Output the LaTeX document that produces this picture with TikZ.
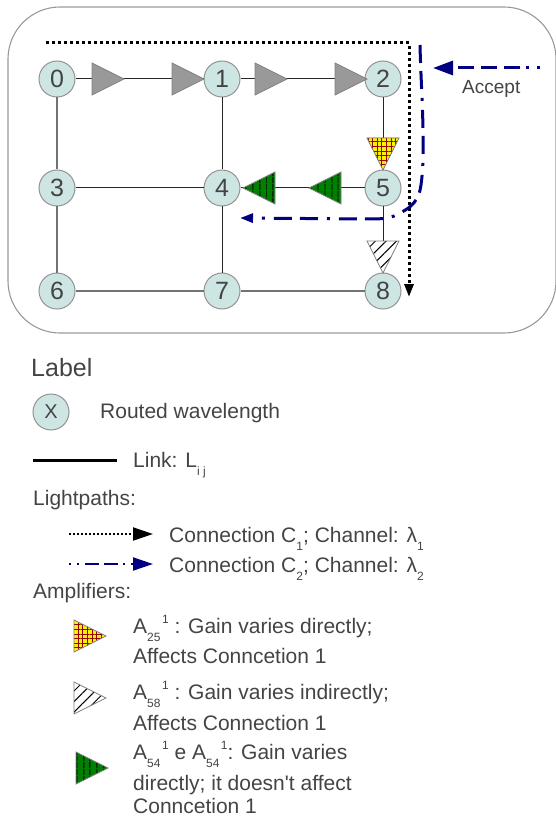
\documentclass[tikz,border=0pt]{standalone}
\usepackage{fontspec}
\setmainfont{Liberation Sans}
\newfontfamily\plainfont{Liberation Sans}
\usetikzlibrary{arrows.meta,patterns.meta,shapes.geometric,positioning}
\definecolor{wavefill}{HTML}{CEE6E3}
\definecolor{txtgray}{HTML}{444444}
\definecolor{pathblue}{HTML}{000080}
\newcommand{\subidx}[1]{\raisebox{-8pt}{\fontsize{12}{12}\selectfont #1}}
\newcommand{\supidx}[1]{\hspace{1.5pt}\raisebox{10pt}{\fontsize{12}{12}\selectfont #1}}

\begin{document}
\begin{tikzpicture}[x=1pt,y=-1pt]
\tikzstyle{wave} = [circle, draw=gray!85, line width=1pt, fill=wavefill, minimum size=36pt, inner sep=0pt, text=txtgray, font=\fontsize{25}{25}\selectfont]
\tikzstyle{link} = [draw=black!85, line width=1pt]
\tikzstyle{linkgray} = [draw=black!55, line width=1.5pt]
\tikzstyle{amp} = [isosceles triangle, isosceles triangle stretches, minimum width=32pt, minimum height=32pt, inner sep=0pt, outer sep=0pt, draw=gray, line width=0.8pt]
\tikzstyle{ampgray} = [amp, fill=gray!80]
\tikzstyle{ampyellow} = [amp, preaction={fill=yellow}, pattern={Hatch[distance=4.6pt,angle=0,line width=0.8pt]}, pattern color=red!60!black]
\tikzstyle{ampwhite} = [amp, preaction={fill=white}, pattern={Lines[distance=7.5pt,angle=45,line width=1pt]}, pattern color=black]
\tikzstyle{ampgreen} = [amp, preaction={fill=green!50!black}, pattern={Lines[distance=6.5pt,angle=90,line width=0.9pt]}, pattern color=black]
\tikzstyle{pathone} = [draw=black, line width=3pt, dash pattern=on 3pt off 3pt]
\tikzstyle{pathtwo} = [draw=pathblue, line width=3pt, dash pattern=on 18pt off 8pt on 18pt off 9pt on 3pt off 9pt]
\tikzstyle{legtext} = [anchor=base west, inner sep=0pt, text=txtgray, font=\fontsize{21}{21}\selectfont]

\useasboundingbox (0,0) rectangle (555,818);
\draw [draw=gray!80, line width=1.1pt, rounded corners=52pt] (8,7) rectangle (556,333);

\node [wave] (n0) at (57,79) {0};
\node [wave] (n1) [right of=n0, node distance=165pt] {1};
\node [wave] (n2) [right of=n1, node distance=161pt] {2};
\node [wave] (n3) [below of=n0, node distance=109pt] {3};
\node [wave] (n4) [below of=n1, node distance=109pt] {4};
\node [wave] (n5) [below of=n2, node distance=109pt] {5};
\node [wave] (n6) [below of=n3, node distance=103pt] {6};
\node [wave] (n7) [below of=n4, node distance=103pt] {7};
\node [wave] (n8) [below of=n5, node distance=103pt] {8};

\draw [link] (n0) -- (n1);
\draw [link] (n1) -- (n2);
\draw [link] (n1) -- (n4);
\draw [link] (n2) -- (n5);
\draw [link] (n3) -- (n4);
\draw [link] (n4) -- (n5);
\draw [link] (n4) -- (n7);
\draw [link] (n5) -- (n8);
\draw [linkgray] (n0) -- (n3);
\draw [linkgray] (n3) -- (n6);
\draw [linkgray] (n6) -- (n7);
\draw [linkgray] (n7) -- (n8);

\node [ampgray] (a01) [right of=n0, node distance=67pt, anchor=apex] {};
\node [ampgray] (a01b) [right of=n0, node distance=147pt, anchor=apex] {};
\node [ampgray] (a12) [right of=n1, node distance=65pt, anchor=apex] {};
\node [ampgray] (a12b) [right of=n1, node distance=145pt, anchor=apex] {};
\node [ampyellow, shape border rotate=270] (a25) [below of=n2, node distance=91pt, anchor=apex] {};
\node [ampwhite, shape border rotate=270] (a58) [below of=n5, node distance=85pt, anchor=apex] {};
\node [ampgreen, shape border rotate=180] (a54) [left of=n5, node distance=140pt, anchor=apex] {};
\node [ampgreen, shape border rotate=180] (a54b) [left of=n5, node distance=74pt, anchor=apex] {};

\coordinate (c1start) at (46,43);
\coordinate (c1end) at (409,297);
\draw [pathone, -{Triangle[length=13pt,width=9pt]}] (c1start) -| (c1end);

\coordinate (c2start) at (420,45);
\coordinate (c2end) at (240,218);
\draw [pathtwo, -{Triangle[length=13pt,width=9pt]}] (c2start) .. controls (421,90) and (426,150) .. (421,185) .. controls (419,200) and (412,207) .. (400,213) .. controls (392,218) and (385,219) .. (370,219) -- (c2end);

\coordinate (accstart) at (540,68);
\coordinate (accend) at (433,68);
\draw [pathtwo, dash pattern=on 3pt off 8pt on 3pt off 6pt on 16pt off 7pt on 16pt off 7pt on 16pt off 7pt, -{Triangle[length=20pt,width=14pt]}] (accstart) -- (accend);
\node [legtext, font=\fontsize{19}{19}\selectfont] (accept) at (462,94) {Accept};

\node [legtext, font=\fontsize{25}{25}\selectfont] (label) at (31,376) {Label};
\node [wave, font=\fontsize{20}{20}\selectfont] (x) at (51,412) {X};
\node [legtext] (routed) at (100,418) {Routed wavelength};

\coordinate (linkstart) at (33,460);
\coordinate (linkend) at (117,460);
\draw [draw=black, line width=3pt] (linkstart) -- (linkend);
\node [legtext] (linktxt) at (133,467) {Link: L\subidx{i j}};

\node [legtext] (lightpaths) at (33,505) {Lightpaths:};
\coordinate (onestart) at (69,534);
\coordinate (oneend) at (153,534);
\draw [pathone, line width=2pt, dash pattern=on 2pt off 2pt, -{Triangle[length=20pt,width=13pt]}] (onestart) -- (oneend);
\node [legtext] (conn1) at (169,542) {Connection C\subidx{1}; Channel: λ\subidx{1}};
\coordinate (twostart) at (69,564);
\coordinate (twoend) at (153,564);
\draw [pathtwo, line width=2pt, dash pattern=on 2pt off 6pt on 2pt off 6pt on 14pt off 5pt on 14pt off 5pt, -{Triangle[length=20pt,width=13pt]}] (twostart) -- (twoend);
\node [legtext] (conn2) at (169,572) {Connection C\subidx{2}; Channel: λ\subidx{2}};

\node [legtext] (amplifiers) at (33,598) {Amplifiers:};
\node [ampyellow, anchor=apex] (leg25) at (106,636) {};
\node [legtext] (txt25) at (133,633) {A\subidx{25}\supidx{1} : Gain varies directly;};
\node [legtext] (txt25b) at (133,663) {Affects Conncetion 1};
\node [ampwhite, anchor=apex] (leg58) at (106,698) {};
\node [legtext] (txt58) at (133,699) {A\subidx{58}\supidx{1} : Gain varies indirectly;};
\node [legtext] (txt58b) at (133,730) {Affects Connection 1};
\node [ampgreen, anchor=apex] (leg54) at (108,768) {};
\node [legtext] (txt54) at (133,759) {A\subidx{54}\supidx{1} e A\subidx{54}\supidx{1}: Gain varies};
\node [legtext] (txt54b) at (133,790) {directly; it doesn{\plainfont '}t affect};
\node [legtext] (txt54c) at (133,813) {Conncetion 1};

\end{tikzpicture}
\end{document}
